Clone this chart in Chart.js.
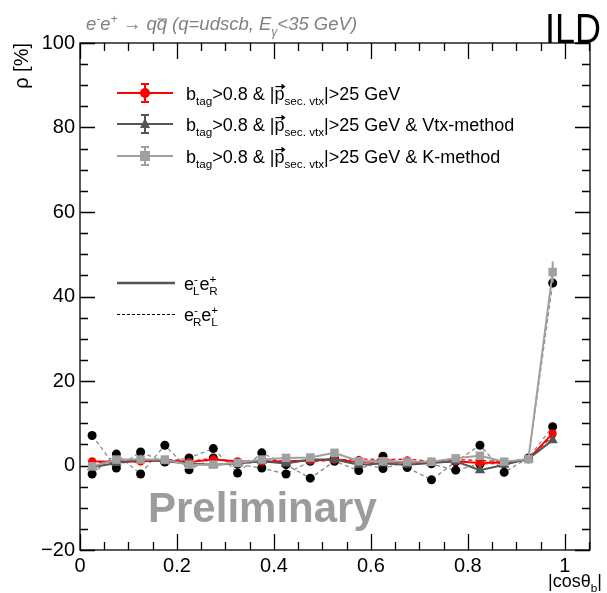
<!DOCTYPE html>
<html>
<head>
<meta charset="utf-8">
<script src="https://cdn.jsdelivr.net/npm/chart.js"></script>
<style>
  html, body { margin: 0; padding: 0; background: #fff; }
  #wrap { width: 607px; height: 593px; position: relative; }
</style>
</head>
<body>
<div id="wrap"><canvas id="rhoChart" width="607" height="593"></canvas></div>
<script>
// bin centres in |cos theta_b|
const binCenters = [0.025, 0.075, 0.125, 0.175, 0.225, 0.275, 0.325, 0.375, 0.425, 0.475,
                    0.525, 0.575, 0.625, 0.675, 0.725, 0.775, 0.825, 0.875, 0.925, 0.975];

// rho [%] : btag + p_sec.vtx cut
const rhoLR = [1.0, 0.8, 1.0, 1.2, 0.8, 1.4, 1.0, 0.9, 1.0, 1.2, 1.4, 0.8, 1.0, 0.7, 0.8, 1.0, 0.6, 0.7, 1.5, 7.6];
const rhoRL = [0.6, 1.2, 0.7, 1.5, 1.0, 1.7, 0.6, 1.5, 0.9, 1.0, 1.2, 1.6, 1.4, 1.5, 1.0, 1.4, 1.2, 0.9, 1.5, 7.0];
// Vtx-method
const vtxLR = [-0.4, 0.6, 1.4, 1.0, 0.5, 0.2, 0.5, 1.0, 0.5, 1.4, 1.4, 0.2, 0.5, 0.2, 0.6, 1.0, -1.1, 0.2, 1.6, 6.0];
const vtxRL = [7.1, -0.6, 3.2, 0.8, 1.8, 4.0, -1.8, 3.0, 0.2, -3.0, 1.0, -1.2, 2.2, -0.5, -3.4, 0.9, 4.8, -1.6, 1.8, 9.2];
// K-method
const kLR = [-0.2, 1.4, 1.4, 1.4, 0.2, 0.2, 0.6, 1.4, 1.8, 1.9, 3.0, 1.0, 1.0, 0.9, 0.9, 1.7, 2.3, 0.9, 1.5, 45.8];
const kRL = [-2.0, 2.7, -2.0, 4.8, -1.0, 1.8, 0.3, -0.6, -2.0, 1.0, 1.8, 0.6, -0.7, 0.9, 0.4, -1.1, 0.3, 0.5, 1.6, 43.2];
// statistical errors (only visible in the last bin)
const kErr = [0.4, 0.4, 0.4, 0.4, 0.4, 0.4, 0.4, 0.4, 0.4, 0.4, 0.4, 0.4, 0.4, 0.4, 0.4, 0.4, 0.4, 0.4, 0.4, 2.5];

const xTicks = [0, 0.2, 0.4, 0.6, 0.8, 1];
const yTicks = [-20, 0, 20, 40, 60, 80, 100];

const pts = arr => arr.map((v, i) => ({ x: binCenters[i], y: v }));

const RED = "#ff0000", DARK = "#555555", LIGHT = "#a0a0a0";
const FONT = "'Liberation Sans', Arial, sans-serif";

// frame with inward ticks on all four sides (ROOT style)
const frameTicks = {
  id: "frameTicks",
  beforeDatasetsDraw(chart) {
    const { ctx, chartArea: a, scales: { x, y } } = chart;
    ctx.save();
    ctx.strokeStyle = "#000";
    ctx.lineWidth = 1.3;
    ctx.strokeRect(a.left, a.top, a.right - a.left, a.bottom - a.top);
    ctx.beginPath();
    for (let v = 0; v <= 1.05 + 1e-9; v += 0.05) {
      const px = Math.round(x.getPixelForValue(v)) + 0.5;
      const len = xTicks.some(t => Math.abs(t - v) < 1e-6) ? 16 : 8;
      ctx.moveTo(px, a.bottom); ctx.lineTo(px, a.bottom - len);
      ctx.moveTo(px, a.top); ctx.lineTo(px, a.top + len);
    }
    for (let v = -20; v <= 100; v += 5) {
      const py = Math.round(y.getPixelForValue(v)) + 0.5;
      const len = yTicks.includes(v) ? 15 : 8;
      ctx.moveTo(a.left, py); ctx.lineTo(a.left + len, py);
      ctx.moveTo(a.right, py); ctx.lineTo(a.right - len, py);
    }
    ctx.stroke();
    ctx.restore();
  }
};

// vertical error bars
const errorBars = {
  id: "errorBars",
  afterDatasetsDraw(chart) {
    const { ctx, scales: { x, y } } = chart;
    ctx.save();
    ctx.strokeStyle = LIGHT;
    ctx.lineWidth = 2;
    ctx.beginPath();
    kLR.forEach((v, i) => {
      const px = x.getPixelForValue(binCenters[i]);
      ctx.moveTo(px, y.getPixelForValue(v - kErr[i]));
      ctx.lineTo(px, y.getPixelForValue(v + kErr[i]));
    });
    ctx.stroke();
    ctx.restore();
  }
};

// rich text with sub/superscripts
function drawRich(ctx, parts, x, y, size, style) {
  let cx = x;
  for (const p of parts) {
    const s = p.sub || p.sup ? size * 0.65 : size;
    ctx.font = (style || "") + " " + s + "px " + FONT;
    const dy = p.sub ? size * 0.3 : p.sup ? -size * 0.4 : 0;
    ctx.fillText(p.t, cx, y + dy);
    const w = ctx.measureText(p.t).width;
    if (p.bar) {
      ctx.fillRect(cx + 1, y - size * 0.62, w - 1, 1.2);
    }
    if (p.vec) {
      const ay = y - size * 0.78;
      ctx.fillRect(cx + 1, ay, w - 1, 1.2);
      ctx.beginPath();
      ctx.moveTo(cx + w + 1, ay + 0.6);
      ctx.lineTo(cx + w - 3, ay - 2.5);
      ctx.lineTo(cx + w - 3, ay + 3.7);
      ctx.closePath();
      ctx.fill();
    }
    cx += w + (p.gap || 0);
  }
  return cx - x;
}

function drawMarker(ctx, kind, x, y, color) {
  ctx.fillStyle = color;
  ctx.beginPath();
  if (kind === "circle") ctx.arc(x, y, 5, 0, Math.PI * 2);
  else if (kind === "triangle") { ctx.moveTo(x, y - 6); ctx.lineTo(x + 5, y + 4); ctx.lineTo(x - 5, y + 4); ctx.closePath(); }
  else ctx.rect(x - 5, y - 5, 10, 10);
  ctx.fill();
}

const annotations = {
  id: "annotations",
  afterDraw(chart) {
    const { ctx } = chart;
    ctx.save();
    ctx.textBaseline = "alphabetic";
    ctx.textAlign = "left";

    // process title
    ctx.fillStyle = "#808080";
    drawRich(ctx, [
      { t: "e" }, { t: "-", sup: true }, { t: "e" }, { t: "+", sup: true },
      { t: " \u2192 " }, { t: "q" }, { t: "q", bar: true }, { t: " (q=udscb, E" }, { t: "\u03b3", sub: true },
      { t: "<35 GeV)" }
    ], 86, 30, 18.5, "italic");

    // ILD
    ctx.fillStyle = "#000";
    ctx.font = "42px " + FONT;
    const ildW = ctx.measureText("ILD").width;
    ctx.save();
    ctx.translate(545, 43);
    ctx.scale(56 / ildW, 1);
    ctx.fillText("ILD", 0, 0);
    ctx.restore();

    // axis titles
    ctx.font = "20px " + FONT;
    ctx.save();
    ctx.translate(28, 43);
    ctx.rotate(-Math.PI / 2);
    ctx.textAlign = "right";
    ctx.fillText("\u03c1 [%]", 0, 0);
    ctx.restore();
    ctx.textAlign = "left";
    drawRich(ctx, [{ t: "|cos\u03b8" }, { t: "b", sub: true }, { t: "|" }], 548, 587, 18);

    // Preliminary
    ctx.fillStyle = "#9c9c9c";
    ctx.font = "bold 42px " + FONT;
    ctx.fillText("Preliminary", 148, 522);

    // legend of methods
    const cut = [{ t: "b" }, { t: "tag", sub: true }, { t: ">0.8 & |" }, { t: "p", vec: true },
                 { t: "sec. vtx", sub: true }, { t: "|>25 GeV" }];
    const entries = [
      { y: 93, color: RED, marker: "circle", extra: "" },
      { y: 124, color: DARK, marker: "triangle", extra: " & Vtx-method" },
      { y: 156, color: LIGHT, marker: "square", extra: " & K-method" }
    ];
    for (const e of entries) {
      ctx.strokeStyle = e.color;
      ctx.lineWidth = 2;
      ctx.beginPath();
      ctx.moveTo(117, e.y); ctx.lineTo(173, e.y);
      ctx.moveTo(145, e.y - 9); ctx.lineTo(145, e.y + 9);
      ctx.moveTo(141, e.y - 9); ctx.lineTo(149, e.y - 9);
      ctx.moveTo(141, e.y + 9); ctx.lineTo(149, e.y + 9);
      ctx.stroke();
      drawMarker(ctx, e.marker, 145, e.y, e.color);
      ctx.fillStyle = "#000";
      const parts = e.extra ? cut.concat([{ t: e.extra }]) : cut;
      drawRich(ctx, parts, 186, e.y + 7, 18);
    }

    // legend of polarisations
    ctx.strokeStyle = DARK;
    ctx.lineWidth = 2.5;
    ctx.beginPath(); ctx.moveTo(117, 283); ctx.lineTo(175, 283); ctx.stroke();
    ctx.strokeStyle = "#000";
    ctx.lineWidth = 1;
    ctx.setLineDash([3, 2]);
    ctx.beginPath(); ctx.moveTo(117, 314.5); ctx.lineTo(175, 314.5); ctx.stroke();
    ctx.setLineDash([]);
    ctx.fillStyle = "#000";
    const pol = (a, b) => [{ t: "e" }, { t: "-", sup: true, gap: -5 }, { t: a, sub: true }, { t: "e" }, { t: "+", sup: true, gap: -7 }, { t: b, sub: true }];
    drawRich(ctx, pol("L", "R"), 184, 290, 18);
    drawRich(ctx, pol("R", "L"), 184, 321, 18);
    ctx.restore();
  }
};

const solid = (label, data, color, style, r) => ({
  label, data: pts(data), borderColor: color, backgroundColor: color, borderWidth: 2,
  pointStyle: style, pointRadius: r, pointBorderWidth: 0, tension: 0
});
const dashed = (label, data, color, ptColor, r) => ({
  label, data: pts(data), borderColor: color, backgroundColor: ptColor, borderWidth: 1.3,
  borderDash: [4, 3], pointStyle: "circle", pointRadius: r, pointBorderWidth: 0, tension: 0
});

// first dataset ends up on top
new Chart(document.getElementById("rhoChart").getContext("2d"), {
  type: "line",
  data: {
    datasets: [
      solid("K eLeR", kLR, LIGHT, "rect", 6),
      solid("Vtx eLeR", vtxLR, DARK, "triangle", 6),
      solid("btag eLeR", rhoLR, RED, "circle", 4),
      dashed("btag eReL", rhoRL, RED, RED, 3),
      dashed("Vtx eReL", vtxRL, "#8a8a8a", "#000", 4.5),
      dashed("K eReL", kRL, "#8a8a8a", "#000", 4.5)
    ]
  },
  options: {
    responsive: false,
    animation: false,
    devicePixelRatio: 1,
    layout: { padding: { left: 0, right: 17, top: 43, bottom: 0 } },
    plugins: { legend: { display: false }, tooltip: { enabled: false } },
    scales: {
      x: {
        type: "linear", min: 0, max: 1.052,
        grid: { display: false, drawTicks: false }, border: { display: false },
        afterBuildTicks: s => { s.ticks = xTicks.map(v => ({ value: v })); },
        afterFit: s => { s.height = 43; },
        ticks: { color: "#000", padding: 4, maxRotation: 0, font: { size: 20, family: FONT },
                 callback: v => String(v) }
      },
      y: {
        min: -20, max: 100,
        grid: { display: false, drawTicks: false }, border: { display: false },
        afterBuildTicks: s => { s.ticks = yTicks.map(v => ({ value: v })); },
        afterFit: s => { s.width = 80; },
        ticks: { color: "#000", padding: 5, font: { size: 20, family: FONT },
                 callback: v => String(v).replace("-", "\u2212") }
      }
    }
  },
  plugins: [frameTicks, errorBars, annotations]
});
</script>
</body>
</html>
